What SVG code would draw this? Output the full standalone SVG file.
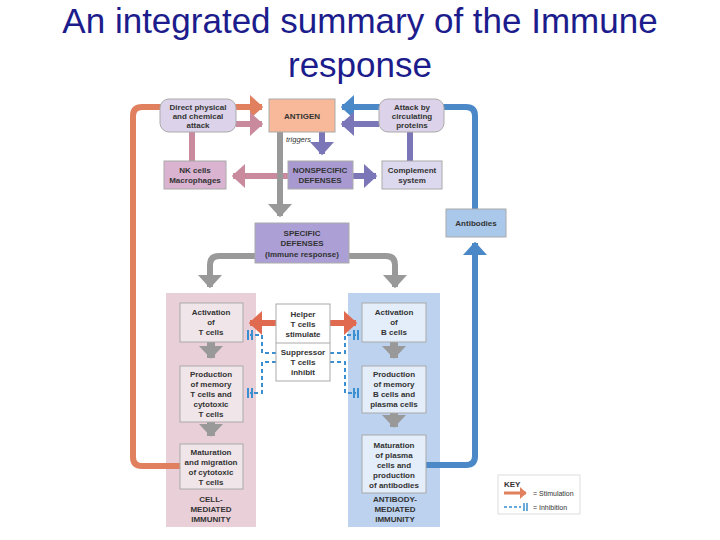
<svg xmlns="http://www.w3.org/2000/svg" width="720" height="540" viewBox="0 0 720 540">
<style>
.t{font-family:"Liberation Sans",Arial,sans-serif;font-size:8px;font-weight:bold;fill:#333;text-anchor:middle}
.title{font-family:"Liberation Sans",Arial,sans-serif;font-size:35px;fill:#1c1c8c;text-anchor:middle}
.b{stroke:#aaa;stroke-width:1}
.c{fill:none;stroke-width:6}
.g{fill:none;stroke:#999;stroke-width:8}
.d{fill:none;stroke:#3a8fd0;stroke-width:2;stroke-dasharray:4,3}
</style>
<defs>
<marker id="ao" markerWidth="4" markerHeight="4" refX="2" refY="2" orient="auto" markerUnits="strokeWidth"><path d="M0,0L2.2,2L0,4z" fill="#e0805e"/></marker>
<marker id="ab" markerWidth="4" markerHeight="4" refX="2" refY="2" orient="auto" markerUnits="strokeWidth"><path d="M0,0L2.2,2L0,4z" fill="#4a88c8"/></marker>
<marker id="am" markerWidth="4" markerHeight="4" refX="2" refY="2" orient="auto" markerUnits="strokeWidth"><path d="M0,0L2.2,2L0,4z" fill="#c98a9e"/></marker>
<marker id="ap" markerWidth="4" markerHeight="4" refX="2" refY="2" orient="auto" markerUnits="strokeWidth"><path d="M0,0L2.2,2L0,4z" fill="#7b76b8"/></marker>
<marker id="ag" markerWidth="4" markerHeight="4" refX="2" refY="2" orient="auto" markerUnits="strokeWidth"><path d="M0,0L2.2,2L0,4z" fill="#999"/></marker>
<marker id="ag2" markerWidth="3" markerHeight="3" refX="1.5" refY="1.5" orient="auto" markerUnits="strokeWidth"><path d="M0,0L1.6,1.5L0,3z" fill="#999"/></marker>
<marker id="ar" markerWidth="4" markerHeight="4" refX="2" refY="2" orient="auto" markerUnits="strokeWidth"><path d="M0,0L2.2,2L0,4z" fill="#e06a50"/></marker>
</defs>
<text class="title" x="360" y="33">An integrated summary of the Immune</text>
<text class="title" x="360" y="77">response</text>

<rect id="left-panel" x="166" y="293" width="90" height="234" fill="#e8cfd8"/>
<rect id="right-panel" x="348" y="293" width="92" height="234" fill="#bcd2ee"/>

<g id="connectors">
<path class="c" stroke="#e0805e" d="M180,466H142Q133,466 133,457V116Q133,107 142,107H262" marker-end="url(#ao)"/>
<path class="c" stroke="#4a88c8" d="M426,465H466Q475,465 475,456V243" marker-end="url(#ab)"/>
<path class="c" stroke="#4a88c8" d="M475,209V116Q475,107 466,107H342" marker-end="url(#ab)"/>
<path class="c" stroke="#c98a9e" d="M236,124H262" marker-end="url(#am)"/>
<path class="c" stroke="#c98a9e" d="M192,132V161"/>
<path class="c" stroke="#c98a9e" d="M288,176H233" marker-end="url(#am)"/>
<path class="c" stroke="#7b76b8" d="M379,124H342" marker-end="url(#ap)"/>
<path class="c" stroke="#7b76b8" d="M410,161V132"/>
<path class="c" stroke="#7b76b8" d="M322,132V154" marker-end="url(#ap)"/>
<path class="c" stroke="#7b76b8" d="M353,176H376" marker-end="url(#ap)"/>
<path class="c" stroke="#999" d="M280,132V216" marker-end="url(#ag)"/>
<path class="c" stroke="#999" d="M255,256H219Q210,256 210,265V287" marker-end="url(#ag)"/>
<path class="c" stroke="#999" d="M349,256H386Q395,256 395,265V287" marker-end="url(#ag)"/>
<path class="g" d="M211,342V358" marker-end="url(#ag2)"/>
<path class="g" d="M211,422V436" marker-end="url(#ag2)"/>
<path class="g" d="M394,342V358" marker-end="url(#ag2)"/>
<path class="g" d="M394,413V427" marker-end="url(#ag2)"/>
<path class="c" stroke="#e06a50" stroke-width="4" d="M276,323H250" marker-end="url(#ar)"/>
<path class="c" stroke="#e06a50" stroke-width="4" d="M330,323H356" marker-end="url(#ar)"/>
<path class="d" d="M276,353H262V335H250M276,362H262V393H250M330,353H345V335H356M330,362H345V393H356"/>
<path stroke="#3a8fd0" stroke-width="2" d="M248,330V340M252,330V340M248,388V398M252,388V398M354,330V340M358,330V340M354,388V398M358,388V398"/>
</g>

<g id="direct"><rect class="b" x="160" y="99" width="76" height="33" rx="9" fill="#dcd3ea"/><text class="t" x="198" y="110">Direct physical</text><text class="t" x="198" y="119">and chemical</text><text class="t" x="198" y="128">attack</text></g>
<g id="antigen"><rect class="b" x="269" y="99" width="66" height="33" fill="#f7b99a"/><text class="t" x="302" y="119">ANTIGEN</text></g>
<g id="attack"><rect class="b" x="379" y="99" width="65" height="33" rx="9" fill="#dcd3ea"/><text class="t" x="412" y="110">Attack by</text><text class="t" x="412" y="119">circulating</text><text class="t" x="412" y="128">proteins</text></g>
<text x="286" y="142" style="font-family:'Liberation Sans',Arial,sans-serif;font-size:7.5px;font-style:italic;fill:#333">triggers</text>
<g id="nk"><rect class="b" x="164" y="161" width="62" height="28" fill="#d9b3cf"/><text class="t" x="195" y="173">NK cells</text><text class="t" x="195" y="183">Macrophages</text></g>
<g id="nonspecific"><rect class="b" x="288" y="161" width="65" height="28" fill="#a89ad1"/><text class="t" x="320" y="173">NONSPECIFIC</text><text class="t" x="320" y="183">DEFENSES</text></g>
<g id="complement"><rect class="b" x="382" y="161" width="60" height="28" fill="#dcd8ee"/><text class="t" x="412" y="173">Complement</text><text class="t" x="412" y="183">system</text></g>
<g id="antibodies"><rect class="b" x="446" y="209" width="60" height="28" fill="#a9c8ea"/><text class="t" x="476" y="226">Antibodies</text></g>
<g id="specific"><rect class="b" x="255" y="223" width="94" height="40" fill="#ab9fd6"/><text class="t" x="302" y="236">SPECIFIC</text><text class="t" x="302" y="246">DEFENSES</text><text class="t" x="302" y="257">(Immune response)</text></g>

<g id="act-t"><rect class="b" x="180" y="303" width="63" height="39" fill="#f0e6ea"/><text class="t" x="211" y="315">Activation</text><text class="t" x="211" y="325">of</text><text class="t" x="211" y="335">T cells</text></g>
<g id="prod-t"><rect class="b" x="180" y="366" width="63" height="56" fill="#f0e6ea"/><text class="t" x="211" y="377">Production</text><text class="t" x="211" y="387">of memory</text><text class="t" x="211" y="397">T cells and</text><text class="t" x="211" y="407">cytotoxic</text><text class="t" x="211" y="417">T cells</text></g>
<g id="mat-t"><rect class="b" x="180" y="444" width="63" height="45" fill="#f0e6ea"/><text class="t" x="211" y="455">Maturation</text><text class="t" x="211" y="465">and migration</text><text class="t" x="211" y="475">of cytotoxic</text><text class="t" x="211" y="485">T cells</text></g>
<text class="t" x="211" y="502">CELL-</text><text class="t" x="211" y="512">MEDIATED</text><text class="t" x="211" y="522">IMMUNITY</text>

<g id="helper"><rect class="b" x="276" y="304" width="54" height="77" fill="#fff"/><line x1="276" y1="343" x2="330" y2="343" stroke="#aaa"/><text class="t" x="303" y="317">Helper</text><text class="t" x="303" y="327">T cells</text><text class="t" x="303" y="337">stimulate</text><text class="t" x="303" y="355">Suppressor</text><text class="t" x="303" y="365">T cells</text><text class="t" x="303" y="375">inhibit</text></g>

<g id="act-b"><rect class="b" x="362" y="303" width="64" height="39" fill="#e3eefa"/><text class="t" x="394" y="315">Activation</text><text class="t" x="394" y="325">of</text><text class="t" x="394" y="335">B cells</text></g>
<g id="prod-b"><rect class="b" x="362" y="366" width="64" height="47" fill="#e3eefa"/><text class="t" x="394" y="377">Production</text><text class="t" x="394" y="387">of memory</text><text class="t" x="394" y="397">B cells and</text><text class="t" x="394" y="407">plasma cells</text></g>
<g id="mat-b"><rect class="b" x="362" y="435" width="64" height="58" fill="#e3eefa"/><text class="t" x="394" y="448">Maturation</text><text class="t" x="394" y="458">of plasma</text><text class="t" x="394" y="468">cells and</text><text class="t" x="394" y="478">production</text><text class="t" x="394" y="488">of antibodies</text></g>
<text class="t" x="395" y="502">ANTIBODY-</text><text class="t" x="395" y="512">MEDIATED</text><text class="t" x="395" y="522">IMMUNITY</text>

<g id="key"><rect x="498" y="475" width="82" height="39" fill="#fff" stroke="#ddd"/>
<text x="504" y="487" style="font-family:'Liberation Sans',Arial,sans-serif;font-size:8px;font-weight:bold;fill:#333">KEY</text>
<path d="M504,493H526" stroke="#e0805e" stroke-width="3" marker-end="url(#ao)"/>
<text x="533" y="496" style="font-family:'Liberation Sans',Arial,sans-serif;font-size:7px;fill:#333">= Stimulation</text>
<path d="M504,507H521" stroke="#3a8fd0" stroke-width="1.5" stroke-dasharray="3,2"/>
<path d="M524,503V511M527,503V511" stroke="#3a8fd0" stroke-width="1.5"/>
<text x="533" y="510" style="font-family:'Liberation Sans',Arial,sans-serif;font-size:7px;fill:#333">= Inhibition</text></g>
</svg>
